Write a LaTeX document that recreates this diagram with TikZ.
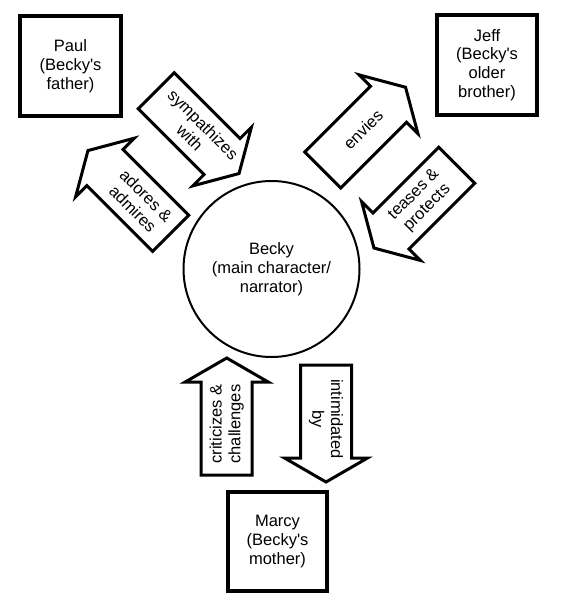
\documentclass[tikz,border=0pt]{standalone}
\usepackage{fontspec}
\setmainfont{Liberation Sans}[Ligatures=TeXOff]
\newcommand{\blockarrow}[6]{% #1 name, #2 tail centre, #3 direction, #4 text rotation, #5 text offset, #6 text
  \begin{scope}[shift={#2}, rotate=#3]
    \draw[arrowline] (0,25.5) -- (93,25.5) -- (93,41.5) -- (117,0) -- (93,-41.5) -- (93,-25.5) -- (0,-25.5) -- cycle;
    \node[arrowtext, rotate=#4] (#1) at (#5,0) {#6};
  \end{scope}}
\begin{document}
\begin{tikzpicture}[x=1pt,y=-1pt,
  txt/.style={font=\fontsize{16.5}{18.8}\selectfont, text=black},
  personbox/.style={txt, draw=black, line width=3.5pt, align=center, inner sep=0pt},
  arrowline/.style={draw=black, fill=white, line width=3pt, line join=miter},
  arrowtext/.style={txt, align=center, inner sep=0pt}]
\useasboundingbox (0,0) rectangle (561,615);
\fill[white] (0,0) rectangle (561,615);

\node[personbox, minimum width=101pt, minimum height=100pt] (paul) at (70.5,66) {Paul\\(Becky's\\father)};
\node[personbox, minimum width=100pt, minimum height=100pt] (jeff) at (487,65) {Jeff\\(Becky's\\older\\brother)};
\node[personbox, minimum width=99pt, minimum height=99pt] (marcy) at (277.5,541.5) {Marcy\\(Becky's\\mother)};
\node[txt, draw=black, circle, line width=2pt, minimum size=176pt, inner sep=0pt, align=center] (becky) at (271.5,269) {Becky\\(main character/\\narrator)};

\blockarrow{sym}{(156.3,90.8)}{-45}{-45}{57}{sympathizes\\with}
\blockarrow{ado}{(170.7,233.3)}{135}{-45}{44}{adores \&\\admires}
\blockarrow{env}{(322.8,170)}{45}{45}{57}{envies}
\blockarrow{tea}{(456.7,165.3)}{-135}{45}{51}{teases \&\\protects}
\blockarrow{cri}{(226.7,475)}{90}{90}{51}{criticizes \&\\challenges}
\blockarrow{inti}{(326,365)}{-90}{-90}{54}{intimidated\\by}
\end{tikzpicture}
\end{document}
